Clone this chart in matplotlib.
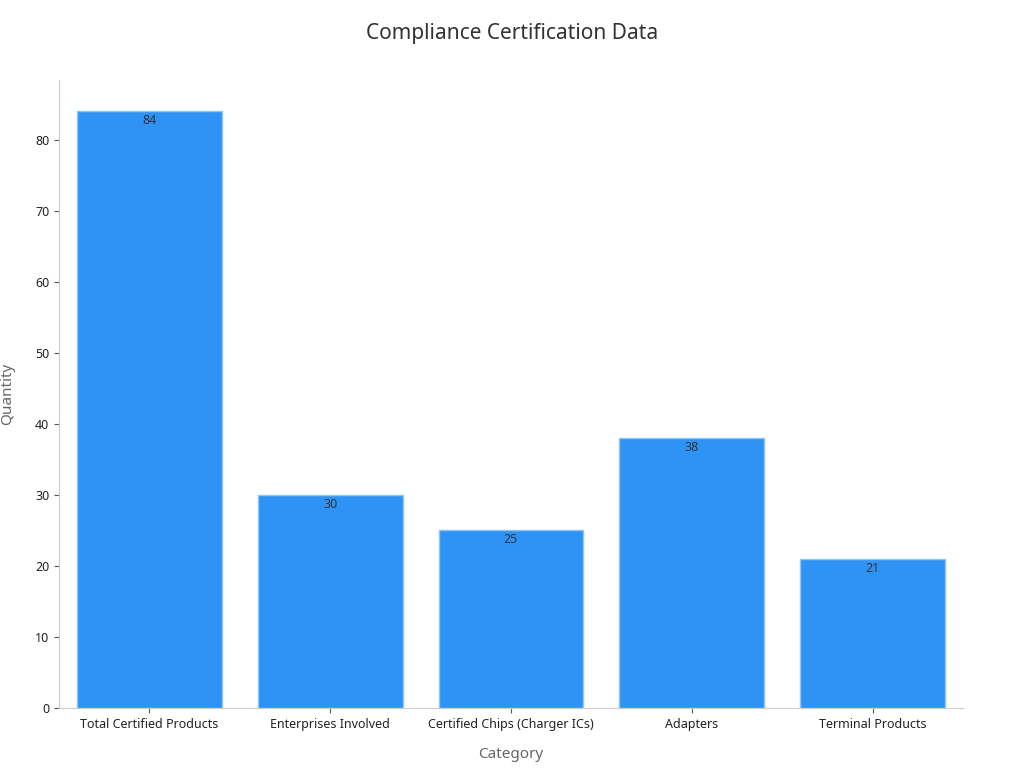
import matplotlib
matplotlib.use("Agg")
import matplotlib.pyplot as plt

categories = ["Total Certified Products", "Enterprises Involved", "Certified Chips (Charger ICs)", "Adapters", "Terminal Products"]
values = [84, 30, 25, 38, 21]

plt.rcParams['font.family'] = ['Noto Sans', 'DejaVu Sans']
fig = plt.figure(figsize=(10.24, 7.68), dpi=100)
ax = fig.add_axes([59/1024, 1-708/768, (963-59)/1024, (708-80)/768])
bars = ax.bar(range(len(categories)), values, width=0.8, color="#2E93F5", edgecolor="#8EC4F8", linewidth=1)
for i, v in enumerate(values):
    ax.text(i, v - 0.4, str(v), ha="center", va="top", fontsize=9, color="#333333")
ax.set_xlim(-0.5, 4.5)
ax.set_ylim(0, 88.4)
ax.set_xticks(range(len(categories)))
ax.set_xticklabels(categories, fontsize=9, color="#222222")
ax.set_yticks(range(0, 90, 10))
ax.tick_params(axis='y', labelsize=9, labelcolor="#222222", color="#555555")
ax.tick_params(axis='x', color="#555555")
for s in ["top", "right"]:
    ax.spines[s].set_visible(False)
for s in ["left", "bottom"]:
    ax.spines[s].set_color("#cccccc")
ax.set_xlabel("Category", fontsize=11, color="#666666", labelpad=12)
ax.set_ylabel("Quantity", fontsize=11, color="#666666", labelpad=14)
fig.text(0.5, 1-33/768, "Compliance Certification Data", ha="center", va="center", fontsize=15, color="#333333")
fig.savefig("out.png", dpi=100)
